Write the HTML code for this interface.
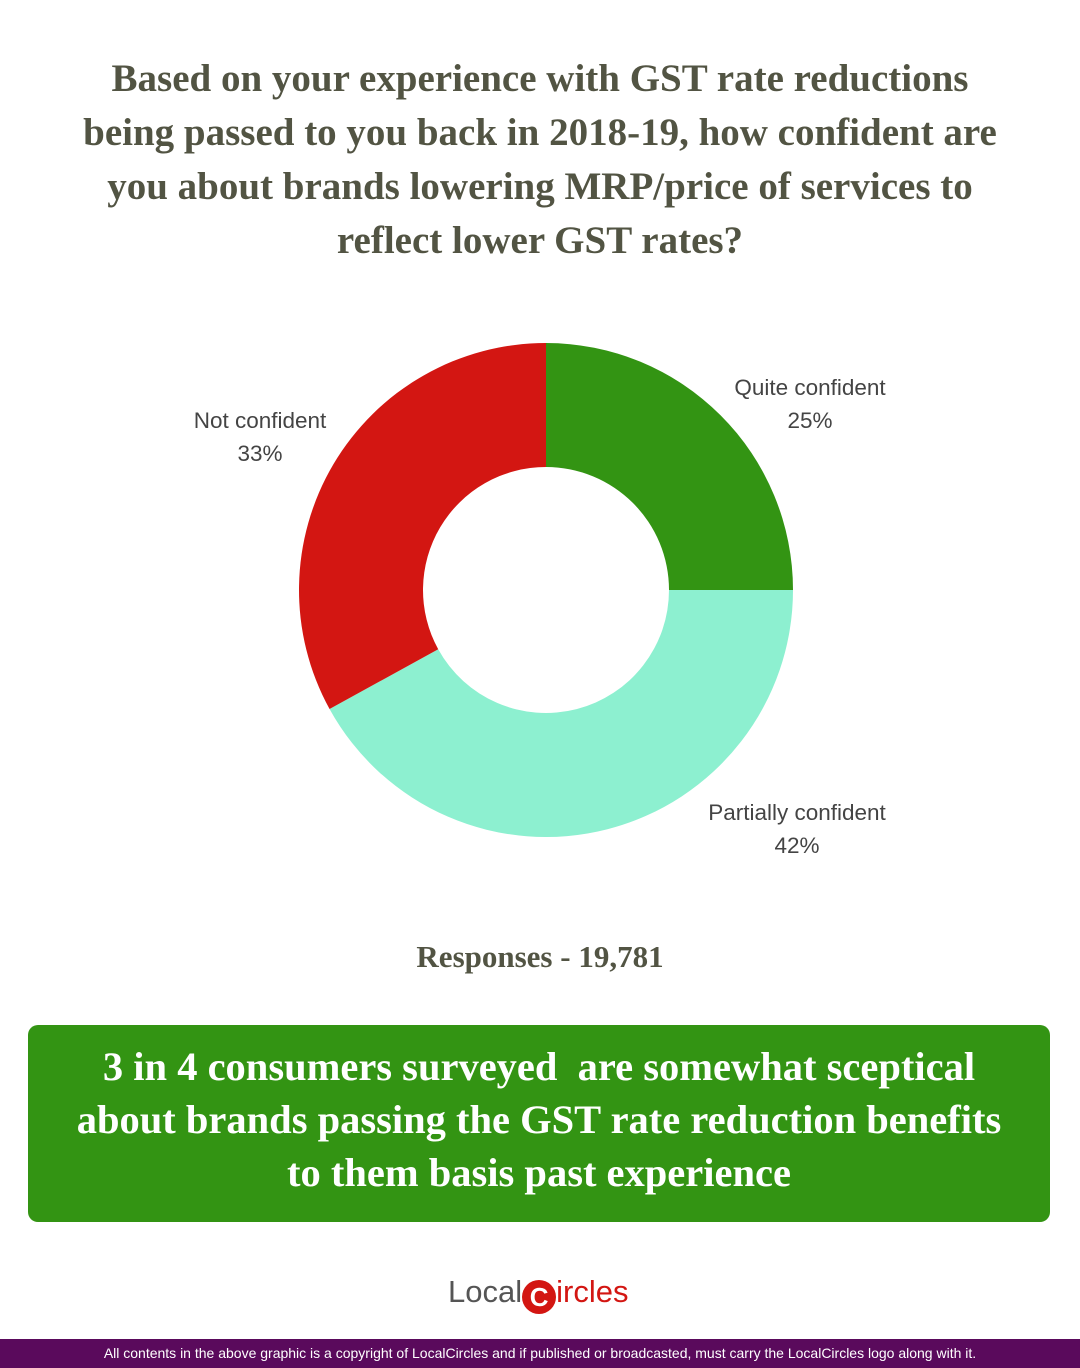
<!DOCTYPE html>
<html><head><meta charset="utf-8"><style>
body{margin:0;width:1080px;height:1368px;background:#fff;position:relative;overflow:hidden;font-family:"Liberation Sans",sans-serif}
.title{position:absolute;left:0;right:0;top:52px;text-align:center;font-family:"Liberation Serif",serif;font-weight:bold;font-size:39px;line-height:54px;color:#525443;white-space:nowrap}
.resp{position:absolute;left:0;right:0;top:939px;text-align:center;font-family:"Liberation Serif",serif;font-weight:bold;font-size:31px;color:#525443}
.box{position:absolute;left:28px;top:1025px;width:1022px;height:197px;background:#339413;border-radius:10px;color:#fff;font-family:"Liberation Serif",serif;font-weight:bold;font-size:40.5px;line-height:53px;text-align:center;box-sizing:border-box;padding-top:15px;white-space:nowrap}
.logo{position:absolute;left:448px;top:1274px;font-size:31px;color:#555}
.footer{position:absolute;left:0;right:0;top:1339px;height:29px;background:#5a0a5c;color:#fff;font-size:14px;line-height:29px;text-align:center}
</style></head><body>
<div class="title">Based on your experience with GST rate reductions<br>being passed to you back in 2018-19, how confident are<br>you about brands lowering MRP/price of services to<br>reflect lower GST rates?</div>
<svg id="chart" width="1080" height="920" style="position:absolute;left:0;top:0"></svg>
<div class="resp">Responses - 19,781</div>
<div class="box">3 in 4 consumers surveyed &nbsp;are somewhat sceptical<br>about brands passing the GST rate reduction benefits<br>to them basis past experience</div>
<div class="logo">Local<span style="display:inline-block;width:34px;height:34px;border-radius:50%;background:#d31612;color:#fff;text-align:center;line-height:34px;font-size:26px;font-weight:bold;vertical-align:-4px">C</span><span style="color:#d31612">ircles</span></div>
<div class="footer">All contents in the above graphic is a copyright of LocalCircles and if published or broadcasted, must carry the LocalCircles logo along with it.</div>
<script>
const categories=["Quite confident","Partially confident","Not confident"];
const values=[25,42,33];
const colors=["#339413","#8df0d0","#d31612"];
const labelPos=[[810,395],[797,820],[260,428]];
const svg=document.getElementById('chart');
const cx=546,cy=590,R=247,r=123,ns="http://www.w3.org/2000/svg";
const total=values.reduce((a,b)=>a+b,0);
function pt(a,rad){return [cx+rad*Math.sin(a),cy-rad*Math.cos(a)];}
let acc=0;
values.forEach((v,i)=>{
  const a0=acc/total*2*Math.PI,a1=(acc+v)/total*2*Math.PI;acc+=v;
  const L=(a1-a0)>Math.PI?1:0;
  const [x0,y0]=pt(a0,R),[x1,y1]=pt(a1,R),[x2,y2]=pt(a1,r),[x3,y3]=pt(a0,r);
  const p=document.createElementNS(ns,'path');
  p.setAttribute('d',`M${x0},${y0}A${R},${R} 0 ${L} 1 ${x1},${y1}L${x2},${y2}A${r},${r} 0 ${L} 0 ${x3},${y3}Z`);
  p.setAttribute('fill',colors[i]);
  
  
  svg.appendChild(p);
  [categories[i],v+'%'].forEach((s,j)=>{
    const t=document.createElementNS(ns,'text');
    t.setAttribute('x',labelPos[i][0]);t.setAttribute('y',labelPos[i][1]+j*33);
    t.setAttribute('text-anchor','middle');t.setAttribute('font-size','22.5');
    t.setAttribute('fill','#444');t.setAttribute('font-family','Liberation Sans, sans-serif');
    t.textContent=s;
    
    
    svg.appendChild(t);
  });
});
</script>
</body></html>
